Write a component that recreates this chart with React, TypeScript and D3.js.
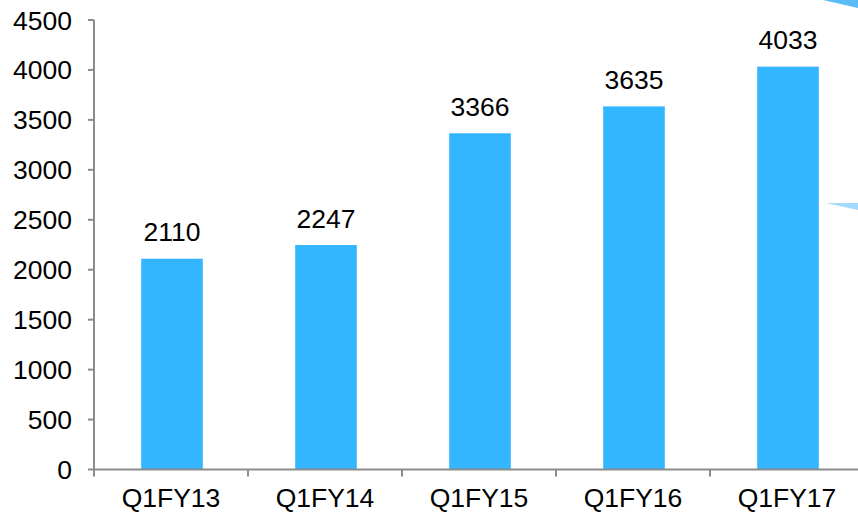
import React from "react";
import * as d3 from "d3";

const categories = ["Q1FY13", "Q1FY14", "Q1FY15", "Q1FY16", "Q1FY17"];
const values = [2110, 2247, 3366, 3635, 4033];
const yTicks = [0, 500, 1000, 1500, 2000, 2500, 3000, 3500, 4000, 4500];

const W = 858;
const H = 516;
const left = 94;
const right = 864;
const top = 20;
const bottom = 469.5;

export default function App() {
  const x = d3.scaleBand<string>().domain(categories).range([left, right]).paddingInner(0.6).paddingOuter(0.3);
  const xb = d3.scaleBand<string>().domain(categories).range([left, right]);
  const y = d3.scaleLinear().domain([0, 4500]).range([bottom, top]);
  const font = "Liberation Sans, Arial, sans-serif";
  const fs = 26.5;
  const axisColor = "#8c8c8c";
  return (
    <svg width={W} height={H} style={{ position: "absolute", left: 0, top: 0, background: "#fff" }}>
      <polygon points="823,0 858,0 858,8" fill="#5bbcf5" />
      <polygon points="826,203 858,203 858,210" fill="#a3d9fb" />
      {categories.map((c, i) => (
        <rect key={c} x={x(c)! + 1} y={y(values[i])} width={x.bandwidth()} height={bottom - y(values[i])} fill="#33b5ff" />
      ))}
      {categories.map((c, i) => (
        <text key={"l" + c} x={x(c)! + 1 + x.bandwidth() / 2} y={y(values[i]) - 17.5} textAnchor="middle" fontFamily={font} fontSize={fs} fill="#000">
          {values[i]}
        </text>
      ))}
      <line x1={left} x2={left} y1={top} y2={bottom + 7} stroke={axisColor} strokeWidth={2} />
      {yTicks.map((t) => (
        <g key={t}>
          <line x1={left - 6} x2={left} y1={y(t)} y2={y(t)} stroke={axisColor} strokeWidth={2} />
          <text x={72} y={y(t) + 9.5} textAnchor="end" fontFamily={font} fontSize={fs} fill="#000">
            {t}
          </text>
        </g>
      ))}
      <line x1={left} x2={W} y1={bottom} y2={bottom} stroke={axisColor} strokeWidth={2} />
      {categories.slice(1).map((c) => (
        <line key={"t" + c} x1={xb(c)!} x2={xb(c)!} y1={bottom} y2={bottom + 7} stroke={axisColor} strokeWidth={2} />
      ))}
      {categories.map((c) => (
        <text key={"x" + c} x={xb(c)! + xb.bandwidth() / 2} y={506.5} textAnchor="middle" fontFamily={font} fontSize={fs} fill="#000">
          {c}
        </text>
      ))}
    </svg>
  );
}
